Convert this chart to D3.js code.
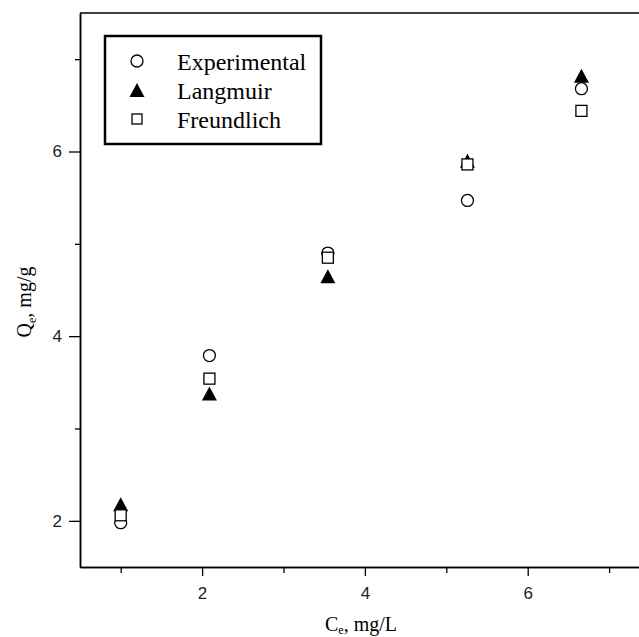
<!DOCTYPE html>
<html>
<head>
<meta charset="UTF-8">
<script src="https://cdnjs.cloudflare.com/ajax/libs/d3/7.8.5/d3.min.js"></script>
<style>
  body { margin: 0; background: #fff; }
</style>
</head>
<body>
<div id="chart"></div>
<script>
// values
var ce = [1.0, 2.09, 3.545, 5.26, 6.66];
var experimental = [1.98, 3.79, 4.90, 5.47, 6.68];
var langmuir = [2.18, 3.38, 4.65, 5.90, 6.82];
var freundlich = [2.06, 3.54, 4.85, 5.86, 6.44];
var xMajor = [2, 4, 6], xMinor = [1, 3, 5, 7];
var yMajor = [2, 4, 6], yMinor = [3, 5, 7];

var W = 639, H = 637;
var plotLeft = 80, plotTop = 13, plotBottom = 567, plotRight = 80 + 7 * 81.4;

var svg = d3.select("#chart").append("svg")
  .attr("width", W).attr("height", H);

var x = d3.scaleLinear().domain([0.5, 7.5]).range([plotLeft, plotRight]);
var y = d3.scaleLinear().domain([1.5, 7.5]).range([plotBottom, plotTop]);

// frame: top and right (right side falls outside the picture)
svg.append("path")
  .attr("d", "M" + plotLeft + "," + plotTop + "H" + plotRight + "V" + plotBottom)
  .attr("fill", "none").attr("stroke", "#000").attr("stroke-width", 1.5);

function styleAxis(g) {
  g.select(".domain").attr("stroke", "#000").attr("stroke-width", 1.5);
  g.selectAll(".tick line").attr("stroke", "#000").attr("stroke-width", 1.3);
  g.selectAll("text").attr("fill", "#222")
    .style("font-family", "'Liberation Sans', Arial, sans-serif").style("font-size", "17px");
}

svg.append("g").attr("transform", "translate(0," + plotBottom + ")")
  .call(d3.axisBottom(x).tickValues(xMinor).tickSize(6).tickFormat("").tickSizeOuter(0))
  .call(styleAxis);
svg.append("g").attr("transform", "translate(0," + plotBottom + ")")
  .call(d3.axisBottom(x).tickValues(xMajor).tickSize(9).tickPadding(11).tickSizeOuter(0)
    .tickFormat(d3.format("d")))
  .call(styleAxis);

svg.append("g").attr("transform", "translate(" + plotLeft + ",0)")
  .call(d3.axisLeft(y).tickValues(yMinor).tickSize(5).tickFormat("").tickSizeOuter(0))
  .call(styleAxis);
svg.append("g").attr("transform", "translate(" + plotLeft + ",0)")
  .call(d3.axisLeft(y).tickValues(yMajor).tickSize(11).tickPadding(7).tickSizeOuter(0)
    .tickFormat(d3.format("d")))
  .call(styleAxis);

// axis titles
var xt = svg.append("text")
  .attr("x", 361).attr("y", 631).attr("text-anchor", "middle")
  .style("font-family", "'Liberation Serif', 'Times New Roman', serif").style("font-size", "20px");
xt.append("tspan").text("C");
xt.append("tspan").attr("dy", 3).style("font-size", "12px").text("e");
xt.append("tspan").attr("dy", -3).text(", mg/L");

var yt = svg.append("text")
  .attr("transform", "translate(31,302) rotate(-90)").attr("text-anchor", "middle")
  .style("font-family", "'Liberation Serif', 'Times New Roman', serif").style("font-size", "20px");
yt.append("tspan").text("Q");
yt.append("tspan").attr("dy", 5).style("font-size", "12px").text("e");
yt.append("tspan").attr("dy", -5).text(", mg/g");

// markers
var tri = "M0,-7L7.5,7L-7.5,7Z";
var pts = ce.map(function(c, i) { return {c: c, e: experimental[i], l: langmuir[i], f: freundlich[i]}; });

svg.selectAll("circle.exp").data(pts).enter().append("circle")
  .attr("class", "exp")
  .attr("cx", function(d) { return x(d.c); })
  .attr("cy", function(d) { return y(d.e); })
  .attr("r", 6)
  .attr("fill", "#fff").attr("stroke", "#000").attr("stroke-width", 1.3);

svg.selectAll("path.lang").data(pts).enter().append("path")
  .attr("class", "lang")
  .attr("d", tri)
  .attr("transform", function(d) { return "translate(" + x(d.c) + "," + y(d.l) + ")"; })
  .attr("fill", "#000");

svg.selectAll("rect.fr").data(pts).enter().append("rect")
  .attr("class", "fr")
  .attr("x", function(d) { return x(d.c) - 5.5; })
  .attr("y", function(d) { return y(d.f) - 5.5; })
  .attr("width", 11).attr("height", 11)
  .attr("fill", "#fff").attr("stroke", "#000").attr("stroke-width", 1.3);

// legend
var lg = svg.append("g");
lg.append("rect").attr("x", 105).attr("y", 36).attr("width", 216).attr("height", 108)
  .attr("fill", "#fff").attr("stroke", "#000").attr("stroke-width", 2.5);
var rows = [61, 90, 119];
lg.append("circle").attr("cx", 137).attr("cy", rows[0]).attr("r", 6)
  .attr("fill", "#fff").attr("stroke", "#000").attr("stroke-width", 1.3);
lg.append("path").attr("d", tri).attr("transform", "translate(137," + rows[1] + ")").attr("fill", "#000");
lg.append("rect").attr("x", 132).attr("y", rows[2] - 5).attr("width", 10).attr("height", 10)
  .attr("fill", "#fff").attr("stroke", "#000").attr("stroke-width", 1.3);
["Experimental", "Langmuir", "Freundlich"].forEach(function(t, i) {
  lg.append("text").attr("x", 177).attr("y", rows[i] + 9).text(t)
    .style("font-family", "'Liberation Serif', 'Times New Roman', serif").style("font-size", "24px");
});
</script>
</body>
</html>
